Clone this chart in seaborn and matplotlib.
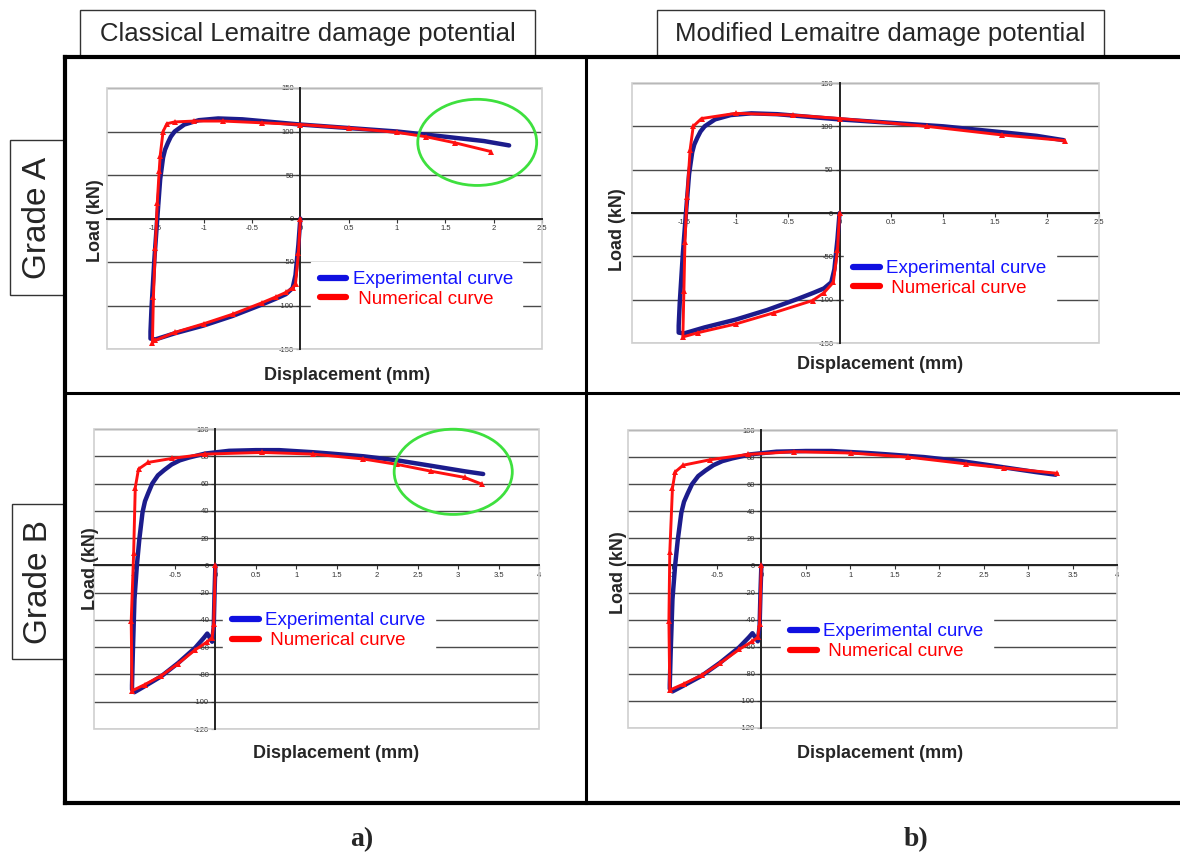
import matplotlib
matplotlib.use("Agg")
import matplotlib.pyplot as plt
import numpy as np
import seaborn as sns

from matplotlib.lines import Line2D
from matplotlib.patches import Ellipse, Rectangle
from matplotlib.ticker import FuncFormatter

# experimental curves (same test shown in both columns)
grade_a_exp_x = [0, -0.02, -0.05, -0.08, -0.15, -0.25, -0.4, -0.7, -1.0, -1.3, -1.5, -1.55,
                 -1.55, -1.54, -1.51, -1.48, -1.45, -1.42, -1.4, -1.37, -1.34, -1.3, -1.25,
                 -1.2, -1.05, -0.85, -0.6, -0.3, 0, 0.5, 1.0, 1.5, 1.9, 2.16]
grade_a_exp_y = [0, -30, -65, -80, -87, -92, -99, -112, -123, -132, -139, -138,
                 -130, -104, -47, 0, 45, 70, 79, 87, 94, 100, 104,
                 108, 113, 115, 114, 111, 108, 104, 100, 94, 89, 84]

grade_b_exp_x = [0, -0.01, -0.02, -0.04, -0.07, -0.1, -0.14, -0.25, -0.46, -0.67, -0.875, -1.0, -1.03,
                 -1.03, -1.02, -1.0, -0.97, -0.94, -0.9, -0.87, -0.83, -0.78, -0.71, -0.63, -0.54,
                 -0.44, -0.33, -0.125, 0.17, 0.5, 0.79, 1.2, 1.42, 1.83, 2.25, 2.67, 3.08, 3.31]
grade_b_exp_y = [0, -20, -45, -56, -53, -50, -53, -60.5, -71.6, -81.4, -88.7, -93, -91,
                 -88, -64, -25, 0, 19, 39, 47, 53, 60, 66, 70, 74,
                 77, 79, 82, 84, 84.5, 84.5, 83, 82, 80, 77, 73, 69, 67]

# numerical curves, classical Lemaitre potential
grade_a_cls_x = [0, -0.02, -0.05, -0.08, -0.15, -0.25, -0.4, -0.7, -1.0, -1.3, -1.5, -1.53,
                 -1.52, -1.5, -1.48, -1.46, -1.45, -1.42, -1.38, -1.3, -1.1, -0.8, -0.4,
                 0, 0.5, 1.0, 1.3, 1.6, 1.97]
grade_a_cls_y = [0, -40, -75, -80, -85, -90, -97, -110, -121, -131, -140, -143,
                 -90, -34, 18, 55, 72, 100, 109, 111, 112, 112, 110,
                 108, 104, 99, 94, 87, 77]

grade_b_cls_x = [0, -0.02, -0.04, -0.1, -0.25, -0.46, -0.67, -0.875, -1.03,
                 -1.04, -1.01, -0.99, -0.95, -0.83, -0.54, -0.125, 0.58, 1.21, 1.83,
                 2.25, 2.67, 3.08, 3.29]
grade_b_cls_y = [0, -43, -53, -56, -62, -72, -81, -87.5, -92,
                 -41, 9, 57, 70.6, 75.5, 78.4, 81.6, 82.8, 81.6, 78,
                 74, 69, 64.5, 59.6]

# numerical curves, modified Lemaitre potential
grade_a_mod_x = [0, -0.02, -0.06, -0.15, -0.26, -0.63, -1.0, -1.36, -1.51,
                 -1.5, -1.49, -1.47, -1.44, -1.41, -1.33, -1.0, -0.45, 0, 0.84, 1.57, 2.17]
grade_a_mod_y = [0, -43, -80, -92, -101, -115, -128, -138, -143,
                 -90, -34, 19, 73, 100, 109, 115, 113, 109, 100, 90, 83.5]

grade_b_mod_x = [0, -0.02, -0.04, -0.1, -0.25, -0.46, -0.67, -0.875, -1.03,
                 -1.04, -1.03, -1.0, -0.97, -0.88, -0.58, -0.15, 0.37, 1.01, 1.65, 2.3, 2.73, 3.33]
grade_b_mod_y = [0, -43, -53, -56, -62, -72, -81, -87.5, -92,
                 -41, 9.6, 57, 69, 74, 78, 82, 84, 83, 80, 75, 72, 68]

grade_a_yticks = [-150, -100, -50, 0, 50, 100, 150]
grade_a_xticks = [-1.5, -1, -0.5, 0, 0.5, 1, 1.5, 2, 2.5]
grade_b_yticks = [-120, -100, -80, -60, -40, -20, 0, 20, 40, 60, 80, 100]
grade_b_xticks = [-1, -0.5, 0, 0.5, 1, 1.5, 2, 2.5, 3, 3.5, 4]

col_titles = ["Classical Lemaitre damage potential", "Modified Lemaitre damage potential"]
row_titles = ["Grade A", "Grade B"]
legend_labels = ["Experimental curve", " Numerical curve"]

EXP_COLOR = "#1c1c8c"
NUM_COLOR = "#ff1010"

sns.set_style("white")
plt.rcParams["font.family"] = ["Liberation Sans", "DejaVu Sans"]
plt.rcParams["axes.unicode_minus"] = False

W, H = 1180, 859
fig = plt.figure(figsize=(W / 100, H / 100), dpi=100)


def fx(px):
    return px / W


def fy(py):
    return 1 - py / H


def px_axes(x0, y0, x1, y1):
    return fig.add_axes([fx(x0), fy(y1), (x1 - x0) / W, (y1 - y0) / H])


def draw_panel(ax, exp_x, exp_y, num_x, num_y, xlim, ylim, xticks, yticks,
               legend_pos, ylab_pos, xlab_pos, ellipse=None):
    ax.set_xlim(*xlim)
    ax.set_ylim(*ylim)

    sns.lineplot(x=exp_x, y=exp_y, sort=False, estimator=None, color=EXP_COLOR,
                 lw=3.2, ax=ax, zorder=3)
    sns.lineplot(x=num_x, y=num_y, sort=False, estimator=None, color=NUM_COLOR,
                 lw=2.1, marker="^", markersize=4, markeredgewidth=0, ax=ax, zorder=4)

    # excel style axes crossing at zero
    for side in ["top", "right"]:
        ax.spines[side].set_visible(False)
    ax.spines["left"].set_position(("data", 0))
    ax.spines["bottom"].set_position(("data", 0))
    for side in ["left", "bottom"]:
        ax.spines[side].set_color("#222222")
        ax.spines[side].set_linewidth(1.4)
    ax.add_patch(Rectangle((0, 0), 1, 1, transform=ax.transAxes, fill=False,
                           edgecolor="#cfcfcf", lw=1.2, clip_on=False, zorder=1))

    ax.set_xticks(xticks)
    ax.set_yticks(yticks)
    fmt = FuncFormatter(lambda v, p: f"{v:g}")
    ax.xaxis.set_major_formatter(fmt)
    ax.yaxis.set_major_formatter(fmt)
    ax.tick_params(axis="both", direction="out", length=3, width=0.8, colors="#333333",
                   labelsize=5.5, pad=1.5, left=True, bottom=True)
    ax.yaxis.grid(True, color="#4a4a4a", lw=1)
    ax.xaxis.grid(False)
    ax.set_axisbelow(True)
    ax.set_xlabel("")
    ax.set_ylabel("")

    ax.text(ylab_pos[0], ylab_pos[1], "Load (kN)", transform=ax.transAxes, rotation=90,
            ha="center", va="center", fontsize=13, fontweight="bold")
    ax.text(xlab_pos[0], xlab_pos[1], "Displacement (mm)", transform=ax.transAxes,
            ha="center", va="center", fontsize=13, fontweight="bold")

    handles = [Line2D([], [], color="#1010e0", lw=4.5), Line2D([], [], color="#ff0000", lw=4.5)]
    leg = ax.legend(handles, legend_labels, loc="center left", bbox_to_anchor=legend_pos,
                    borderaxespad=0, frameon=True, framealpha=1, fancybox=False,
                    facecolor="white", edgecolor="white", fontsize=13.5,
                    labelcolor=["#1414ff", "#ff0000"], handlelength=1.4,
                    handletextpad=0.35, labelspacing=0.15, borderpad=0.5)
    leg.set_zorder(6)

    if ellipse is not None:
        ax.add_patch(Ellipse(ellipse[:2], ellipse[2], ellipse[3], fill=False,
                             edgecolor="#3ee03e", lw=2, clip_on=False, zorder=7))


ax_a_cls = px_axes(107, 88, 542, 349)
draw_panel(ax_a_cls, grade_a_exp_x, grade_a_exp_y, grade_a_cls_x, grade_a_cls_y,
           (-2, 2.5), (-150, 150), grade_a_xticks, grade_a_yticks,
           (0.468, 0.228), (-0.026, 0.49), (0.552, -0.10),
           ellipse=(1.83, 87.5, 1.23, 99))

ax_b_cls = px_axes(94, 429, 539, 729)
draw_panel(ax_b_cls, grade_b_exp_x, grade_b_exp_y, grade_b_cls_x, grade_b_cls_y,
           (-1.5, 4), (-120, 100), grade_b_xticks, grade_b_yticks,
           (0.29, 0.327), (-0.008, 0.535), (0.544, -0.083),
           ellipse=(2.94, 68.6, 1.46, 62.5))

ax_a_mod = px_axes(632, 83, 1099, 343)
draw_panel(ax_a_mod, grade_a_exp_x, grade_a_exp_y, grade_a_mod_x, grade_a_mod_y,
           (-2, 2.5), (-150, 150), grade_a_xticks, grade_a_yticks,
           (0.454, 0.248), (-0.03, 0.435), (0.531, -0.081))

ax_b_mod = px_axes(628, 430, 1117, 728)
draw_panel(ax_b_mod, grade_b_exp_x, grade_b_exp_y, grade_b_mod_x, grade_b_mod_y,
           (-1.5, 4), (-120, 100), grade_b_xticks, grade_b_yticks,
           (0.313, 0.29), (-0.02, 0.52), (0.515, -0.087))

# column title boxes
for (x0, x1), title in zip([(80, 535), (657, 1104)], col_titles):
    fig.add_artist(Rectangle((fx(x0), fy(57)), (x1 - x0) / W, 47 / H, transform=fig.transFigure,
                             facecolor="white", edgecolor="#333333", lw=1))
    fig.text(fx((x0 + x1) / 2), fy(34), title, ha="center", va="center", fontsize=18.5)

# row title boxes
for (x0, y0, y1), title in zip([(10, 140, 295), (12, 504, 659)], row_titles):
    fig.add_artist(Rectangle((fx(x0), fy(y1)), (65 - x0) / W, (y1 - y0) / H,
                             transform=fig.transFigure, facecolor="white",
                             edgecolor="#333333", lw=1))
    fig.text(fx((x0 + 65) / 2), fy((y0 + y1) / 2), title, ha="center", va="center",
             rotation=90, fontsize=24)

# outer frame and dividers
frame_kw = dict(transform=fig.transFigure, color="black", solid_capstyle="projecting")
fig.add_artist(Line2D([fx(65), fx(1185)], [fy(57), fy(57)], lw=3, **frame_kw))
fig.add_artist(Line2D([fx(65), fx(1185)], [fy(803), fy(803)], lw=3, **frame_kw))
fig.add_artist(Line2D([fx(65), fx(65)], [fy(57), fy(803)], lw=3, **frame_kw))
fig.add_artist(Line2D([fx(586), fx(586)], [fy(57), fy(803)], lw=2.2, **frame_kw))
fig.add_artist(Line2D([fx(65), fx(1185)], [fy(393), fy(393)], lw=2.2, **frame_kw))

fig.text(fx(362), fy(840), "a)", ha="center", va="center", fontsize=20,
         fontweight="bold", family=["Liberation Serif", "DejaVu Serif"])
fig.text(fx(916), fy(840), "b)", ha="center", va="center", fontsize=20,
         fontweight="bold", family=["Liberation Serif", "DejaVu Serif"])

fig.savefig("out.png", dpi=100, facecolor="white")
